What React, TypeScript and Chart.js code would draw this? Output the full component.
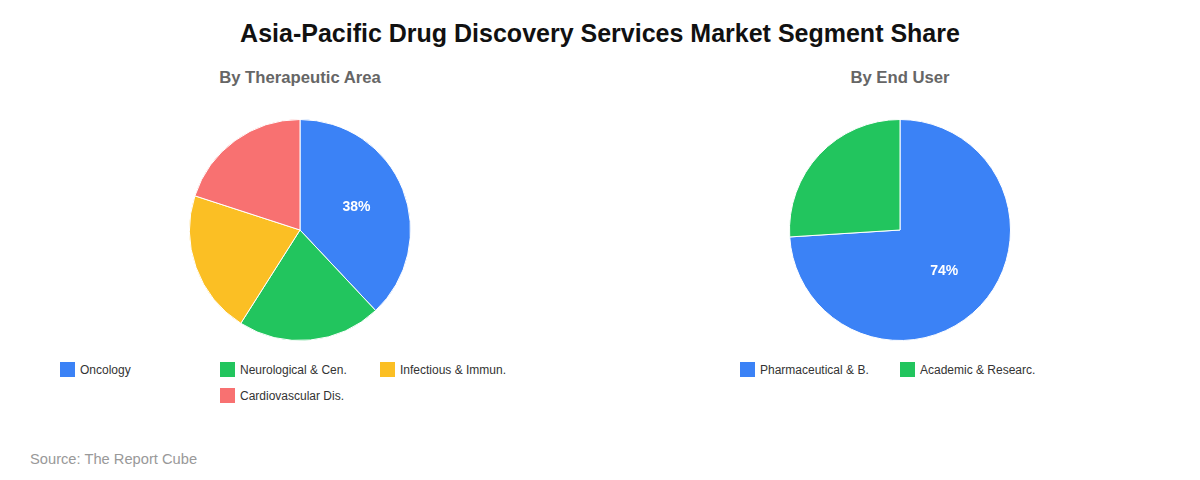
import React, { useEffect, useRef } from 'react';
import { Chart, registerables, Plugin } from 'chart.js';

Chart.register(...registerables);

const chartTitle = 'Asia-Pacific Drug Discovery Services Market Segment Share';
const sourceText = 'Source: The Report Cube';

const therapeuticTitle = 'By Therapeutic Area';
const therapeuticLabels = ['Oncology', 'Neurological & Cen.', 'Infectious & Immun.', 'Cardiovascular Dis.'];
const therapeuticValues = [38, 21, 21, 20];
const therapeuticColors = ['#3b82f6', '#22c55e', '#fbbf24', '#f87171'];

const endUserTitle = 'By End User';
const endUserLabels = ['Pharmaceutical & B.', 'Academic & Researc.'];
const endUserValues = [74, 26];
const endUserColors = ['#3b82f6', '#22c55e'];

const FONT = '"Liberation Sans", Arial, Helvetica, sans-serif';

// draws the percentage on the big slices only
const sliceLabels: Plugin<'pie'> = {
  id: 'sliceLabels',
  afterDatasetsDraw(chart) {
    const ctx = chart.ctx;
    const meta = chart.getDatasetMeta(0);
    const values = chart.data.datasets[0].data as number[];
    ctx.save();
    ctx.fillStyle = '#ffffff';
    ctx.font = `bold 14px ${FONT}`;
    ctx.textAlign = 'center';
    ctx.textBaseline = 'middle';
    meta.data.forEach((el, i) => {
      if (values[i] < 30) return;
      const arc = el as any;
      const mid = (arc.startAngle + arc.endAngle) / 2;
      const r = arc.outerRadius * 0.55;
      ctx.fillText(`${values[i]}%`, arc.x + Math.cos(mid) * r, arc.y + Math.sin(mid) * r);
    });
    ctx.restore();
  },
};

interface PieProps {
  title: string;
  labels: string[];
  values: number[];
  colors: string[];
  left: number;
}

const PiePanel: React.FC<PieProps> = ({ title, labels, values, colors, left }) => {
  const canvasRef = useRef<HTMLCanvasElement | null>(null);

  useEffect(() => {
    const ctx = canvasRef.current?.getContext('2d');
    if (!ctx) return;
    const chart = new Chart(ctx, {
      type: 'pie',
      data: {
        labels,
        datasets: [
          {
            data: values,
            backgroundColor: colors,
            borderColor: '#ffffff',
            borderWidth: 1,
          },
        ],
      },
      options: {
        animation: false,
        responsive: false,
        maintainAspectRatio: false,
        layout: { padding: 0 },
        plugins: {
          legend: { display: false },
          tooltip: { enabled: false },
        },
      },
      plugins: [sliceLabels],
    });
    return () => chart.destroy();
  }, [labels, values, colors]);

  return (
    <div style={{ position: 'absolute', left, top: 0, width: 600, height: 480 }}>
      <div
        style={{
          position: 'absolute',
          top: 68,
          width: 600,
          textAlign: 'center',
          fontSize: 16.7,
          fontWeight: 'bold',
          color: '#666666',
        }}
      >
        {title}
      </div>
      <canvas
        ref={canvasRef}
        width={222}
        height={222}
        style={{ position: 'absolute', left: 189, top: 119, width: 222, height: 222 }}
      />
      <div
        style={{
          position: 'absolute',
          top: 362,
          left: 0,
          width: 600,
          display: 'flex',
          flexWrap: 'wrap',
          justifyContent: 'center',
          rowGap: 11,
        }}
      >
        {labels.map((label, i) => (
          <div key={label} style={{ width: 160, display: 'flex', alignItems: 'center', height: 15 }}>
            <span style={{ width: 15, height: 15, background: colors[i], marginRight: 5, flex: 'none' }} />
            <span style={{ fontSize: 12, color: '#333333', whiteSpace: 'nowrap' }}>{label}</span>
          </div>
        ))}
      </div>
    </div>
  );
};

export default function App() {
  return (
    <div
      style={{
        position: 'fixed',
        left: 0,
        top: 0,
        width: 1200,
        height: 480,
        background: '#ffffff',
        fontFamily: FONT,
        overflow: 'hidden',
      }}
    >
      <div
        style={{
          position: 'absolute',
          top: 19,
          width: 1200,
          textAlign: 'center',
          fontSize: 25,
          fontWeight: 'bold',
          color: '#111111',
        }}
      >
        {chartTitle}
      </div>
      <PiePanel title={therapeuticTitle} labels={therapeuticLabels} values={therapeuticValues} colors={therapeuticColors} left={0} />
      <PiePanel title={endUserTitle} labels={endUserLabels} values={endUserValues} colors={endUserColors} left={600} />
      <div style={{ position: 'absolute', left: 30, top: 451, fontSize: 14.7, color: '#999999' }}>{sourceText}</div>
    </div>
  );
}
